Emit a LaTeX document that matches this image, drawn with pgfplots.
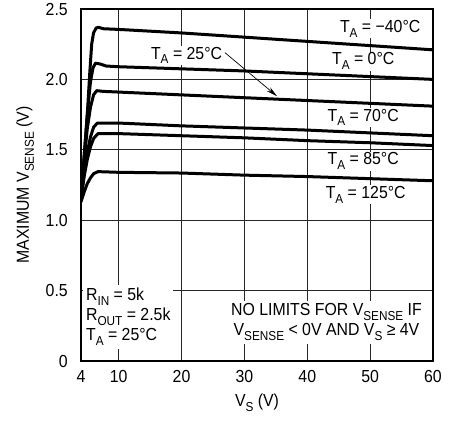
\documentclass[border=0pt]{standalone}
\usepackage{pgfplots}
\pgfplotsset{compat=1.18}
\usetikzlibrary{arrows.meta}
\usepackage{fontspec}
\setmainfont{Liberation Sans}[FakeStretch=0.91]
\newcommand\sub[1]{\raisebox{-0.28em}{\fontsize{13}{13}\selectfont #1}}
\begin{document}
\fontsize{17.5}{20}\selectfont
\begin{tikzpicture}
\tikzset{curve/.style={black, line width=3bp, mark=none, line join=round}}
\begin{axis}[
    scale only axis,
    width=352bp, height=352bp,
    xmin=4, xmax=60, ymin=0, ymax=2.5,
    xtick={4,10,20,30,40,50,60},
    ytick={0,0.5,1,1.5,2,2.5},
    yticklabels={0,0.5,1.0,1.5,2.0,2.5},
    /pgf/number format/assume math mode=true,
    major tick length=0pt,
    grid=major,
    grid style={line width=0.8bp, black!85},
    axis line style={line width=1.6bp},
    xticklabel style={inner sep=0pt, yshift=-9bp},
    yticklabel style={inner sep=0pt, xshift=-13bp},
    xlabel={V\sub{S} (V)},
    ylabel={MAXIMUM V\sub{SENSE} (V)},
    xlabel style={at={(axis description cs:0.5,0)}, anchor=north, inner sep=0pt, yshift=-33bp},
    ylabel style={at={(axis description cs:-0.133,0.5)}, anchor=south, inner sep=0pt},
]
% T_A = -40C
\addplot[curve] coordinates {(4,1.15) (4.5,1.45) (5.0,1.75) (5.4,2.05) (5.7,2.25) (6.0,2.33) (6.4,2.365) (6.8,2.37) (7.5,2.36) (10,2.355) (20,2.33) (30,2.30) (40,2.27) (50,2.24) (60,2.21)};
% T_A = 0C
\addplot[curve] coordinates {(4,1.15) (4.5,1.45) (5.0,1.75) (5.5,1.98) (5.9,2.08) (6.3,2.115) (7,2.11) (8,2.095) (10,2.09) (20,2.075) (30,2.06) (40,2.04) (50,2.02) (60,2.0)};
% T_A = 25C
\addplot[curve] coordinates {(4,1.15) (4.5,1.42) (5.0,1.65) (5.5,1.8) (6.0,1.89) (6.5,1.92) (7.5,1.915) (10,1.91) (20,1.89) (30,1.87) (40,1.85) (50,1.83) (60,1.81)};
% T_A = 70C
\addplot[curve] coordinates {(4,1.15) (4.5,1.33) (5.0,1.48) (5.5,1.59) (6.0,1.66) (6.6,1.69) (7.5,1.69) (10,1.69) (20,1.67) (30,1.655) (40,1.64) (50,1.62) (60,1.60)};
% T_A = 85C
\addplot[curve] coordinates {(4,1.15) (4.5,1.31) (5,1.43) (5.5,1.52) (6,1.58) (6.7,1.615) (8,1.615) (10,1.615) (20,1.60) (30,1.585) (40,1.565) (50,1.55) (60,1.53)};
% T_A = 125C
\addplot[curve] coordinates {(4,1.13) (4.5,1.2) (5,1.26) (5.5,1.3) (6,1.33) (6.7,1.345) (10,1.34) (20,1.335) (30,1.32) (40,1.31) (50,1.295) (60,1.28)};

\tikzset{lbl/.style={fill=white, inner xsep=3bp, inner ysep=1bp}}
\node[lbl] at (51.6,2.36) {T\sub{A} = −40°C};
\node[lbl] at (48.9,2.13) {T\sub{A} = 0°C};
\node[lbl] at (48.9,1.73) {T\sub{A} = 70°C};
\node[lbl] at (48.9,1.42) {T\sub{A} = 85°C};
\node[lbl] at (49.3,1.18) {T\sub{A} = 125°C};
\node[lbl] at (20.8,2.17) {T\sub{A} = 25°C};
\draw[line width=0.7bp, -{Stealth[length=11bp,width=5bp]}] (26.9,2.19) -- (35.2,1.88);
\node[fill=white, align=left, anchor=north west, inner sep=3bp] at (4.3,0.54)
  {R\sub{IN} = 5k\\R\sub{OUT} = 2.5k\\T\sub{A} = 25°C};
\node[fill=white, align=center, anchor=north, inner sep=3bp] at (43.05,0.43)
  {NO LIMITS FOR V\sub{SENSE} IF\\V\sub{SENSE} < 0V AND V\sub{S} ≥ 4V};
\end{axis}
\pgfresetboundingbox
\path ([xshift=-81bp,yshift=-62bp]current axis.south west) rectangle ([xshift=30bp,yshift=9bp]current axis.north east);
\end{tikzpicture}
\end{document}
